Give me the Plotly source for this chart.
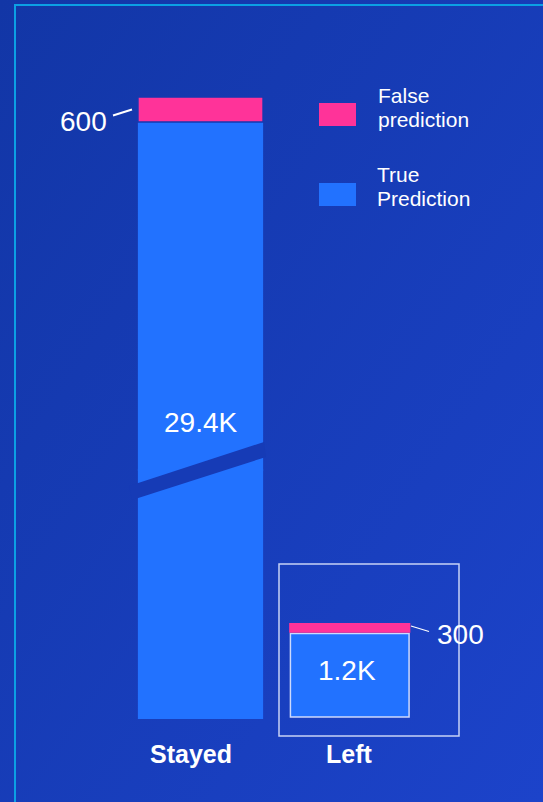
import base64
import plotly.graph_objects as go

# ---------------- data ----------------
categories = ["Stayed", "Left"]
true_pred = [29400, 1200]
false_pred = [600, 300]
series_names = ["False prediction", "True Prediction"]

# ---------------- styling ----------------
W, H = 543, 802
PINK = "#FF3399"
BLUE = "#2272FF"
FONT = "Liberation Sans, Arial, sans-serif"


def px(x):
    return x / W


def py(y):
    return 1 - y / H


def fmt(v):
    return f"{v/1000:.1f}K" if v >= 1000 else str(v)


svg = (
    f'<svg xmlns="http://www.w3.org/2000/svg" width="{W}" height="{H}">'
    '<defs><linearGradient id="g" x1="0" y1="0" x2="1" y2="1">'
    '<stop offset="0" stop-color="#1236A6"/><stop offset="1" stop-color="#1C43CA"/>'
    '</linearGradient></defs>'
    f'<rect width="{W}" height="{H}" fill="url(#g)"/></svg>'
)
bg_uri = "data:image/svg+xml;base64," + base64.b64encode(svg.encode()).decode()

fig = go.Figure()

# Stayed bar on a broken axis: lower part (y) and upper part (y2)
for yax in ["y", "y2"]:
    fig.add_trace(go.Bar(x=[categories[0]], y=[true_pred[0]], base=[0],
                         marker=dict(color=BLUE, line=dict(width=0)),
                         width=0.839, xaxis="x", yaxis=yax, showlegend=False,
                         hoverinfo="skip"))
    fig.add_trace(go.Bar(x=[categories[0]], y=[false_pred[0]], base=[true_pred[0]],
                         marker=dict(color=PINK, line=dict(width=1.6, color="#1539B0")),
                         width=0.839, xaxis="x", yaxis=yax, showlegend=False,
                         hoverinfo="skip"))

# Left bar (inset): true part on y3, false part on y4
fig.add_trace(go.Bar(x=[categories[1]], y=[true_pred[1]], base=[0],
                     marker=dict(color=BLUE, line=dict(width=1.5, color="rgba(225,232,255,0.9)")),
                     width=0.795, xaxis="x", yaxis="y3", showlegend=False,
                     hoverinfo="skip"))
fig.add_trace(go.Bar(x=[categories[1]], y=[false_pred[1]], base=[true_pred[1]],
                     marker=dict(color=PINK, line=dict(width=0)),
                     width=0.812, xaxis="x", yaxis="y4", showlegend=False,
                     hoverinfo="skip"))

hidden = dict(visible=False, showgrid=False, zeroline=False, fixedrange=True)

fig.update_layout(
    width=W, height=H,
    margin=dict(l=0, r=0, t=0, b=0),
    paper_bgcolor="#1739B8",
    plot_bgcolor="rgba(0,0,0,0)",
    barmode="overlay",
    showlegend=False,
    xaxis=dict(domain=[px(125.875), px(424.375)], range=[-0.5, 1.5],
               type="category", categoryorder="array", categoryarray=categories,
               anchor="y", **hidden),
    yaxis=dict(domain=[py(719), py(469)], range=[0, 6000], anchor="x", **hidden),
    yaxis2=dict(domain=[py(471), py(97)], range=[30000 - 374 * 24, 30000], anchor="x", **hidden),
    yaxis3=dict(domain=[py(720), py(630)], range=[-43.1, 1250.3], anchor="x", **hidden),
    yaxis4=dict(domain=[py(634), py(622)], range=[1164, 1530], anchor="x", **hidden),
    images=[dict(source=bg_uri, xref="paper", yref="paper", x=0, y=1,
                 sizex=1, sizey=1, sizing="stretch", layer="below",
                 xanchor="left", yanchor="top")],
)

shapes = []
# frame lines
shapes.append(dict(type="path", xref="paper", yref="paper",
                   path=f"M {px(15)},{py(802)} L {px(15)},{py(5)} L {px(543)},{py(5)}",
                   line=dict(color="#0CA0E4", width=2)))
# break band across the Stayed bar
shapes.append(dict(type="path", xref="paper", yref="paper",
                   path=(f"M {px(129)},{py(486)} L {px(264)},{py(442)} "
                         f"L {px(266)},{py(457)} L {px(132)},{py(500)} Z"),
                   fillcolor="#163BB6", line=dict(width=0), layer="above"))
# inset frame
shapes.append(dict(type="rect", xref="paper", yref="paper",
                   x0=px(279), x1=px(459), y0=py(736), y1=py(564),
                   line=dict(color="rgba(230,236,255,0.85)", width=1.5)))
# leader lines
shapes.append(dict(type="line", xref="paper", yref="paper",
                   x0=px(113), y0=py(115.5), x1=px(132), y1=py(109.5),
                   line=dict(color="white", width=2)))
shapes.append(dict(type="line", xref="paper", yref="paper",
                   x0=px(411), y0=py(626), x1=px(429), y1=py(631.5),
                   line=dict(color="white", width=1.3)))
# legend keys
shapes.append(dict(type="rect", xref="paper", yref="paper",
                   x0=px(319), x1=px(356), y0=py(126), y1=py(103),
                   fillcolor=PINK, line=dict(width=0)))
shapes.append(dict(type="rect", xref="paper", yref="paper",
                   x0=px(319), x1=px(356), y0=py(206), y1=py(183),
                   fillcolor=BLUE, line=dict(width=0)))
fig.update_layout(shapes=shapes)

ann = []


def text(t, x, y, size, bold=False, xanchor="center"):
    ann.append(dict(text=f"<b>{t}</b>" if bold else t, xref="paper", yref="paper",
                    x=px(x), y=py(y), xanchor=xanchor, yanchor="middle",
                    showarrow=False, font=dict(family=FONT, size=size, color="white")))


# value labels
text(fmt(false_pred[0]), 83, 122, 28)
text(fmt(true_pred[0]), 200.5, 423, 28)
text(fmt(true_pred[1]), 347, 670.5, 28)
text(fmt(false_pred[1]), 460.5, 634, 28)
# category labels
text(categories[0], 191, 754, 25, bold=True)
text(categories[1], 349, 754, 25, bold=True)
# legend text
f1, f2 = series_names[0].split(" ", 1)
t1, t2 = series_names[1].split(" ", 1)
text(f1, 376, 95, 21, xanchor="left")
text(f2, 376, 119.5, 21, xanchor="left")
text(t1, 375, 174, 21, xanchor="left")
text(t2, 375, 198, 21, xanchor="left")
fig.update_layout(annotations=ann)

fig.write_html("out.html")
